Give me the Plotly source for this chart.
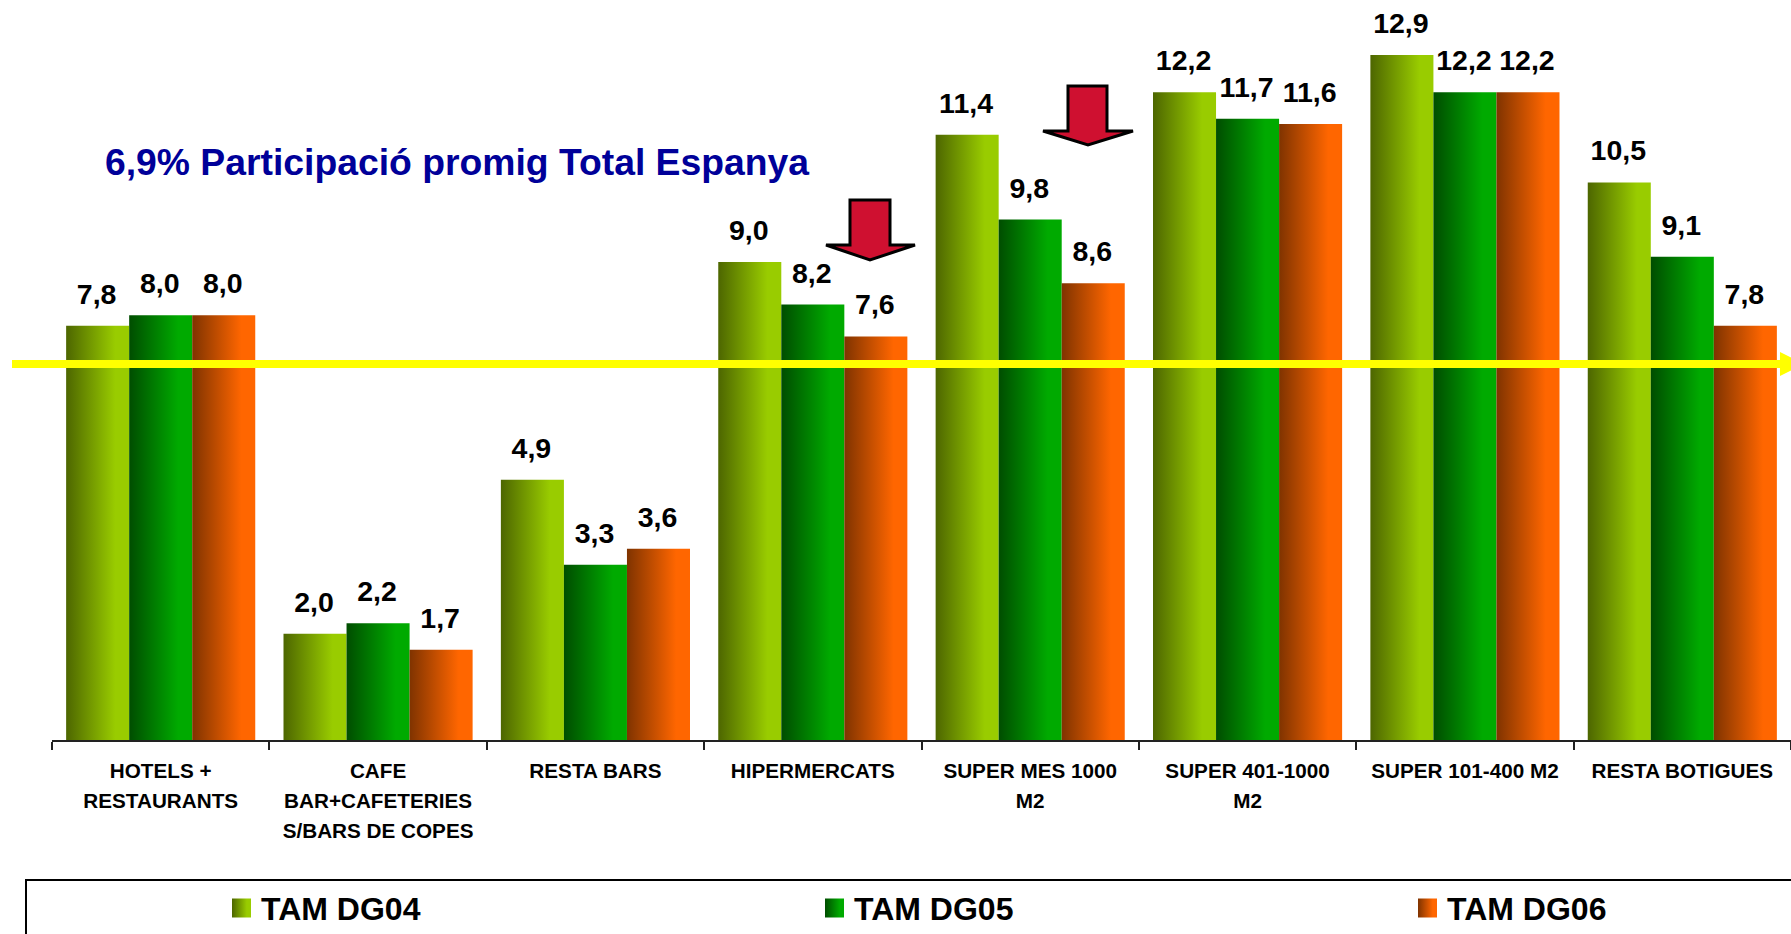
import plotly.graph_objects as go

categories = ["HOTELS +<br>RESTAURANTS", "CAFE<br>BAR+CAFETERIES<br>S/BARS DE COPES", "RESTA BARS",
              "HIPERMERCATS", "SUPER MES 1000<br>M2", "SUPER 401-1000<br>M2", "SUPER 101-400 M2", "RESTA BOTIGUES"]
tam_dg04 = [7.8, 2.0, 4.9, 9.0, 11.4, 12.2, 12.9, 10.5]
tam_dg05 = [8.0, 2.2, 3.3, 8.2, 9.8, 11.7, 12.2, 9.1]
tam_dg06 = [8.0, 1.7, 3.6, 7.6, 8.6, 11.6, 12.2, 7.8]
series_names = ["TAM DG04", "TAM DG05", "TAM DG06"]
series_colors = ["#99cc00", "#00aa00", "#ff6600"]
note_text = "6,9% Participació promig Total Espanya"

W, H = 1791, 934
ML, MB = 52, 194
FONT = "Liberation Sans"

def px(x):
    return (x - ML) / (W - ML)
def py(y):
    return 1 - y / (H - MB)
def path(points):
    return "M" + " L".join(f"{px(x):.5f},{py(y):.5f}" for x, y in points) + " Z"

fig = go.Figure()
for name, vals, col in zip(series_names, [tam_dg04, tam_dg05, tam_dg06], series_colors):
    fig.add_bar(name=name, x=categories, y=vals, marker=dict(color=col, line=dict(width=0)),
                texttemplate="%{y:.1f}", textposition="outside", cliponaxis=False,
                textfont=dict(family=FONT, size=28.5, color="#000000"))

shapes = [
    dict(type="rect", xref="paper", yref="paper", x0=px(26), x1=px(1830), y0=py(880), y1=py(980),
         line=dict(color="#000000", width=2), fillcolor="rgba(0,0,0,0)"),
    dict(type="line", xref="paper", yref="paper", x0=px(12), x1=px(1782), y0=py(364), y1=py(364),
         line=dict(color="#ffff00", width=8)),
    dict(type="path", xref="paper", yref="paper", path=path([(1780, 352), (1804, 364), (1780, 376)]),
         fillcolor="#ffff00", line=dict(width=0)),
]
for a in [[(850, 200), (890, 200), (890, 245), (915, 245), (870, 260), (826, 245), (850, 245)],
          [(1068, 86), (1107, 86), (1107, 131), (1133, 131), (1088, 145), (1043, 131), (1068, 131)]]:
    shapes.append(dict(type="path", xref="paper", yref="paper", path=path(a),
                       fillcolor="#cf1030", line=dict(color="#000000", width=3)))

fig.update_layout(
    width=W, height=H, margin=dict(l=ML, r=0, t=0, b=MB, pad=0),
    paper_bgcolor="#ffffff", plot_bgcolor="#ffffff",
    separators=",.", barmode="group", bargap=0.13, bargroupgap=0,
    font=dict(family=FONT, color="#000000"),
    shapes=shapes,
    annotations=[dict(text=f"<b>{note_text}</b>", xref="paper", yref="paper", x=px(103), y=py(162),
                      xanchor="left", yanchor="middle", showarrow=False,
                      font=dict(family=FONT, size=37.3, color="#000099"))],
    legend=dict(orientation="h", x=0.1, y=0.5, xanchor="left", yanchor="middle",
                entrywidth=200, entrywidthmode="pixels", borderwidth=0, bgcolor="rgba(0,0,0,0)",
                font=dict(family=FONT, size=32, color="#000000", weight="bold")),
    xaxis=dict(type="category", showgrid=False, zeroline=False, showline=True, linecolor="#222222", linewidth=2,
               ticks="outside", ticklen=8, tickwidth=2, tickcolor="#222222", tickson="boundaries",
               ticklabelstandoff=11,
               tickfont=dict(family=FONT, size=20.7, color="#000000", weight="bold"), tickangle=0, fixedrange=True),
    yaxis=dict(range=[0, 740 / 53.1], visible=False, fixedrange=True),
)

post = """
(function(){
  document.body.style.margin='0';
  document.documentElement.style.overflow='hidden';
  var gd=document.getElementById('{plot_id}');
  var svg=gd.querySelector('.main-svg');
  var defs=svg.querySelector('defs');
  var NS='http://www.w3.org/2000/svg';
  var stops=[['#4d6600','#99cc00'],['#004d00','#00aa00'],['#7f3300','#ff6600']];
  stops.forEach(function(s,i){
    var g=document.createElementNS(NS,'linearGradient');
    g.setAttribute('id','barg'+i);
    g.setAttribute('x1','0');g.setAttribute('x2','1');g.setAttribute('y1','0');g.setAttribute('y2','0');
    [[0,s[0]],[0.78,s[1]],[1,s[1]]].forEach(function(p){
      var st=document.createElementNS(NS,'stop');
      st.setAttribute('offset',p[0]);st.setAttribute('stop-color',p[1]);g.appendChild(st);
    });
    defs.appendChild(g);
  });
  gd.querySelectorAll('.barlayer .trace.bars').forEach(function(t,i){
    t.querySelectorAll('.point path').forEach(function(p){p.style.fill='url(#barg'+i+')';});
    t.querySelectorAll('text').forEach(function(x){
      var tr=x.getAttribute('transform')||'';
      x.setAttribute('transform','translate(-1,-13) '+tr);
      x.style.fontWeight='bold';
    });
  });
  var lg=gd.querySelector('.legend');
  lg.setAttribute('transform','translate(221,0)');
  var sb=lg.querySelector('.scrollbox');
  if(sb){sb.removeAttribute('clip-path');sb.setAttribute('transform','translate(0,0)');}
  lg.querySelectorAll('.traces').forEach(function(t,i){
    t.setAttribute('transform','translate('+(593*i)+',908)');
    t.querySelectorAll('.legendpoints path').forEach(function(p){
      p.setAttribute('d','M10,9.5H-9V-9.5H10Z');
      p.style.fill='url(#barg'+i+')';
    });
  });
  gd.querySelectorAll('.xtick text').forEach(function(x){
    x.querySelectorAll('tspan.line').forEach(function(l,i){
      if(i>0){l.setAttribute('dy',(i*30/20.7)+'em');}
    });
  });
})();
"""
fig.write_html("out.html", post_script=post, config=dict(displayModeBar=False, responsive=False))
